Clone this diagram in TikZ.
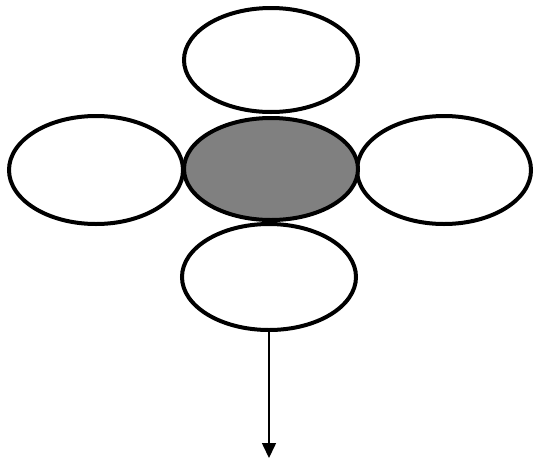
\documentclass[tikz,border=0pt]{standalone}
\usetikzlibrary{arrows.meta, shapes.geometric}
\definecolor{coreGray}{HTML}{808080}
\tikzset{
  petal/.style={ellipse, draw=black, fill=white, line width=4pt,
                minimum width=174pt, minimum height=104pt, inner sep=0pt},
  core/.style={petal, fill=coreGray, minimum height=102pt},
  arrowK/.style={-{Triangle[length=15pt, width=14pt]}, black, line width=1.6pt},
}
\begin{document}
\begin{tikzpicture}[x=1pt, y=-1pt]
  \useasboundingbox (0,0) rectangle (535,461);
  % outer petals
  \node[petal] (top) at (271,60) {};
  \node[petal, minimum height=108pt] (left) at (96,170) {};
  \node[petal, minimum height=108pt] (right) at (444,170) {};
  \node[petal, minimum height=106pt] (bottom) at (269,277) {};
  % centre
  \node[core] (centre) at (271,169) {};
  \coordinate (tip) at (269,458);
  \draw[arrowK] (bottom.south) -- (tip);
\end{tikzpicture}
\end{document}
